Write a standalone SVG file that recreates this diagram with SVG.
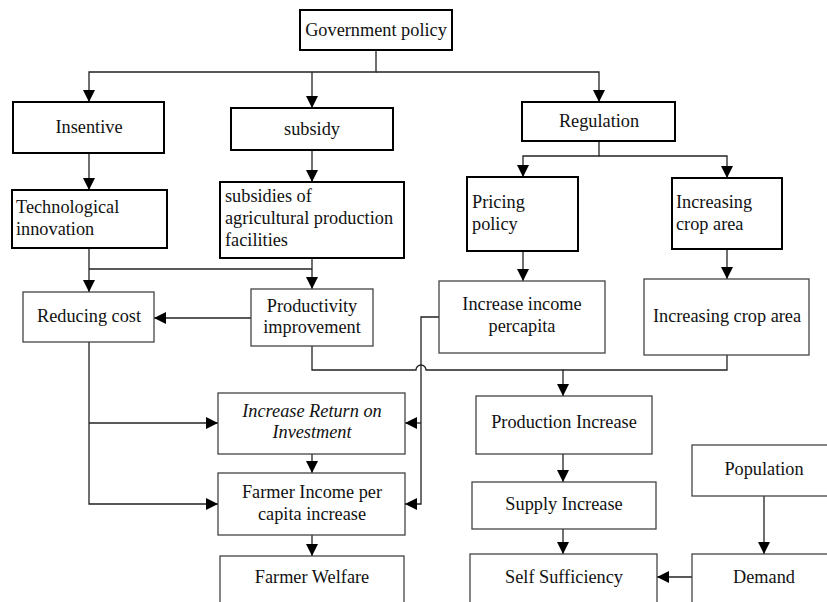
<svg xmlns="http://www.w3.org/2000/svg" width="827" height="602" viewBox="0 0 827 602" font-family="'Liberation Serif', 'Times New Roman', serif" font-size="18.3">
  <style>
    text { fill: #111; }
    .c { text-anchor: middle; }
    .it { font-style: italic; }
    .box { fill: #fff; stroke: #444; stroke-width: 1.3; }
    .bold { fill: #fff; stroke: #000; stroke-width: 2; }
    .link { fill: none; stroke: #222; stroke-width: 1.3; }
  </style>
  <defs>
    <marker id="arrow" viewBox="0 0 12 12" refX="12" refY="6" markerWidth="12" markerHeight="12" markerUnits="userSpaceOnUse" orient="auto">
      <path d="M0,0 L12,6 L0,12 z" fill="#000"/>
    </marker>
  </defs>

  <rect width="827" height="602" fill="#fff"/>

  <!-- connectors -->
  <g id="connectors">
    <path class="link" d="M376 50 V72 H89 V102" marker-end="url(#arrow)"/>
    <path class="link" d="M312 72 V108" marker-end="url(#arrow)"/>
    <path class="link" d="M376 72 H599 V102" marker-end="url(#arrow)"/>
    <path class="link" d="M89 153 V190" marker-end="url(#arrow)"/>
    <path class="link" d="M312 150 V182" marker-end="url(#arrow)"/>
    <path class="link" d="M599 141 V156 H523 V177" marker-end="url(#arrow)"/>
    <path class="link" d="M599 156 H727 V178" marker-end="url(#arrow)"/>
    <path class="link" d="M89 248 V292" marker-end="url(#arrow)"/>
    <path class="link" d="M89 269 H312"/>
    <path class="link" d="M312 258 V289" marker-end="url(#arrow)"/>
    <path class="link" d="M251 318 H154" marker-end="url(#arrow)"/>
    <path class="link" d="M523 251 V281" marker-end="url(#arrow)"/>
    <path class="link" d="M727 249 V279" marker-end="url(#arrow)"/>
    <!-- hop over the vertical feed from "Increase income percapita" -->
    <path class="link" d="M312 346 V370 H416 A5 5 0 0 1 426 370 H563 V396" marker-end="url(#arrow)"/>
    <path class="link" d="M727 355 V370 H563"/>
    <path class="link" d="M89 342 V504 H218" marker-end="url(#arrow)"/>
    <path class="link" d="M89 423 H218" marker-end="url(#arrow)"/>
    <path class="link" d="M439 317 H421 V504 H405" marker-end="url(#arrow)"/>
    <path class="link" d="M421 423 H405" marker-end="url(#arrow)"/>
    <path class="link" d="M312 454 V473" marker-end="url(#arrow)"/>
    <path class="link" d="M312 535 V556" marker-end="url(#arrow)"/>
    <path class="link" d="M563 454 V482" marker-end="url(#arrow)"/>
    <path class="link" d="M563 529 V554" marker-end="url(#arrow)"/>
    <path class="link" d="M764 496 V554" marker-end="url(#arrow)"/>
    <path class="link" d="M692 577 H657" marker-end="url(#arrow)"/>
  </g>

  <!-- nodes -->
  <g id="government-policy">
    <rect class="bold" x="300" y="10" width="152" height="40"/>
    <text class="c" x="376" y="36">Government policy</text>
  </g>
  <g id="insentive">
    <rect class="bold" x="13" y="102" width="151" height="51"/>
    <text class="c" x="89" y="133">Insentive</text>
  </g>
  <g id="subsidy">
    <rect class="bold" x="231" y="108" width="162" height="42"/>
    <text class="c" x="312" y="135">subsidy</text>
  </g>
  <g id="regulation">
    <rect class="bold" x="522" y="102" width="153" height="39"/>
    <text class="c" x="599" y="127">Regulation</text>
  </g>
  <g id="technological-innovation">
    <rect class="bold" x="12" y="190" width="155" height="58"/>
    <text x="16" y="213">Technological</text>
    <text x="16" y="235">innovation</text>
  </g>
  <g id="subsidies-facilities">
    <rect class="bold" x="220" y="182" width="184" height="76"/>
    <text x="225" y="202">subsidies of</text>
    <text x="225" y="224">agricultural production</text>
    <text x="225" y="246">facilities</text>
  </g>
  <g id="pricing-policy">
    <rect class="bold" x="467" y="177" width="111" height="74"/>
    <text x="472" y="208">Pricing</text>
    <text x="472" y="230">policy</text>
  </g>
  <g id="increasing-crop-area-top">
    <rect class="bold" x="672" y="178" width="110" height="71"/>
    <text x="676" y="208">Increasing</text>
    <text x="676" y="230">crop area</text>
  </g>
  <g id="reducing-cost">
    <rect class="box" x="23" y="292" width="131" height="50"/>
    <text class="c" x="89" y="322">Reducing cost</text>
  </g>
  <g id="productivity-improvement">
    <rect class="box" x="251" y="289" width="122" height="57"/>
    <text class="c" x="312" y="312">Productivity</text>
    <text class="c" x="312" y="333">improvement</text>
  </g>
  <g id="increase-income-percapita">
    <rect class="box" x="439" y="281" width="166" height="72"/>
    <text class="c" x="522" y="310">Increase income</text>
    <text class="c" x="522" y="332">percapita</text>
  </g>
  <g id="increasing-crop-area">
    <rect class="box" x="644" y="279" width="165" height="76"/>
    <text class="c" x="727" y="322">Increasing crop area</text>
  </g>
  <g id="increase-return">
    <rect class="box" x="218" y="393" width="187" height="61"/>
    <text class="c it" x="312" y="417">Increase Return on</text>
    <text class="c it" x="312" y="438">Investment</text>
  </g>
  <g id="production-increase">
    <rect class="box" x="476" y="396" width="176" height="58"/>
    <text class="c" x="564" y="428">Production Increase</text>
  </g>
  <g id="farmer-income">
    <rect class="box" x="218" y="473" width="187" height="62"/>
    <text class="c" x="312" y="498">Farmer Income per</text>
    <text class="c" x="312" y="520">capita increase</text>
  </g>
  <g id="supply-increase">
    <rect class="box" x="472" y="482" width="184" height="47"/>
    <text class="c" x="564" y="510">Supply Increase</text>
  </g>
  <g id="farmer-welfare">
    <rect class="box" x="220" y="556" width="184" height="60"/>
    <text class="c" x="312" y="583">Farmer Welfare</text>
  </g>
  <g id="self-sufficiency">
    <rect class="box" x="470" y="554" width="187" height="60"/>
    <text class="c" x="564" y="583">Self Sufficiency</text>
  </g>
  <g id="population">
    <rect class="box" x="692" y="445" width="150" height="51"/>
    <text class="c" x="764" y="475">Population</text>
  </g>
  <g id="demand">
    <rect class="box" x="692" y="554" width="150" height="60"/>
    <text class="c" x="764" y="583">Demand</text>
  </g>
</svg>
